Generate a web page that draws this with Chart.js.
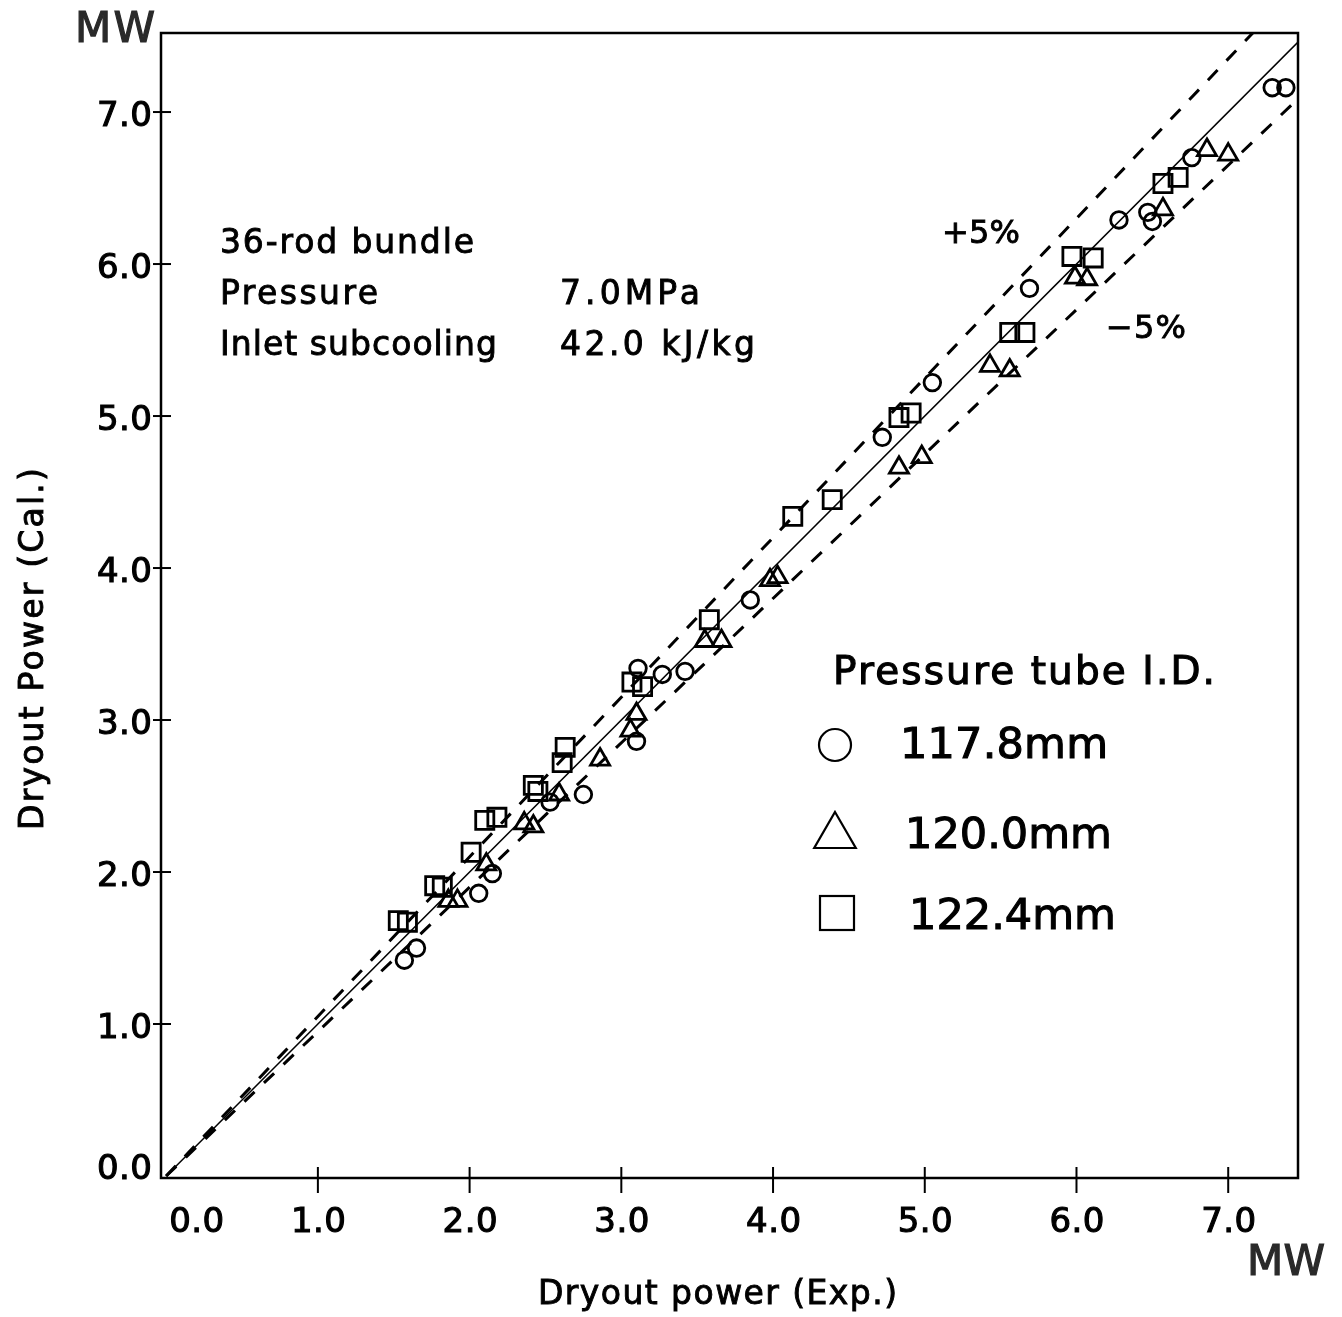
<!DOCTYPE html>
<html>
<head>
<meta charset="utf-8">
<script src="https://cdn.jsdelivr.net/npm/chart.js@4.4.1/dist/chart.umd.min.js"></script>
<style>
  html, body { margin: 0; padding: 0; background: #fff; }
  #chart { display: block; }
</style>
</head>
<body>
<canvas id="chart" width="1342" height="1317"></canvas>
<script>
// dryout power, exp. (x) vs cal. (y), MW

// pressure tube I.D. 117.8mm (circles)
const tube1178X = [1.57, 1.65, 2.06, 2.15, 2.53, 2.75, 3.10, 3.11, 3.27, 3.42, 3.85, 4.72, 5.05, 5.69, 6.28, 6.47, 6.50, 6.76, 7.29, 7.38];
const tube1178Y = [1.42, 1.50, 1.86, 1.99, 2.46, 2.51, 2.86, 3.34, 3.30, 3.32, 3.79, 4.86, 5.22, 5.84, 6.29, 6.34, 6.28, 6.70, 7.16, 7.16];

// 120.0mm (triangles)
const tube1200X = [1.86, 1.92, 2.11, 2.36, 2.42, 2.59, 2.86, 3.06, 3.10, 3.55, 3.66, 3.98, 4.03, 4.83, 4.98, 5.43, 5.56, 5.99, 6.07, 6.57, 6.86, 7.00];
const tube1200Y = [1.81, 1.81, 2.05, 2.32, 2.30, 2.51, 2.74, 2.93, 3.04, 3.52, 3.52, 3.92, 3.94, 4.66, 4.73, 5.33, 5.30, 5.91, 5.90, 6.36, 6.75, 6.72];

// 122.4mm (squares)
const tube1224X = [1.53, 1.59, 1.77, 1.82, 2.01, 2.10, 2.18, 2.42, 2.45, 2.63, 2.61, 3.07, 3.14, 3.58, 4.13, 4.39, 4.83, 4.91, 5.56, 5.66, 5.97, 6.11, 6.57, 6.67];
const tube1224Y = [1.68, 1.67, 1.91, 1.90, 2.13, 2.34, 2.36, 2.57, 2.53, 2.82, 2.72, 3.25, 3.22, 3.66, 4.34, 4.45, 4.99, 5.02, 5.55, 5.55, 6.05, 6.04, 6.53, 6.57];

// reference lines: cal = exp, +5%, -5%
const refEnds = [0, 7.6];
const refRatios = [1.0, 1.05, 0.95];

const tickValues = [0, 1, 2, 3, 4, 5, 6, 7];
const tickLabels = ['0.0', '1.0', '2.0', '3.0', '4.0', '5.0', '6.0', '7.0'];

const legendLabels = ['117.8mm', '120.0mm', '122.4mm'];

function pts(xs, ys) {
  return xs.map((v, i) => ({ x: v, y: ys[i] }));
}

function refLine(r) {
  return refEnds.map(v => ({ x: v, y: v * r }));
}

const FONT = '"DejaVu Sans", "Liberation Sans", sans-serif';

// draws text from its left edge, spread to a given width, a bit heavier than Book
function text(ctx, str, left, base, size, width, weight) {
  ctx.font = size + 'px ' + FONT;
  ctx.letterSpacing = '0px';
  if (width && str.length > 1) {
    const w = ctx.measureText(str).width;
    ctx.letterSpacing = ((width - w) / (str.length - 1)).toFixed(2) + 'px';
  }
  ctx.textAlign = 'left';
  ctx.textBaseline = 'alphabetic';
  ctx.fillText(str, left, base);
  ctx.lineWidth = weight === undefined ? 0.9 : weight;
  if (ctx.lineWidth > 0) ctx.strokeText(str, left, base);
  ctx.letterSpacing = '0px';
}

function seg(ctx, x1, y1, x2, y2) {
  ctx.beginPath();
  ctx.moveTo(x1, y1);
  ctx.lineTo(x2, y2);
  ctx.stroke();
}

const decorations = {
  id: 'decorations',
  afterDatasetsDraw(chart) {
    const { ctx, chartArea: a, scales } = chart;
    const sx = scales.x, sy = scales.y;
    ctx.save();
    ctx.strokeStyle = '#000';
    ctx.fillStyle = '#000';

    // frame
    ctx.lineWidth = 2.5;
    ctx.strokeRect(a.left, a.top, a.right - a.left, a.bottom - a.top);

    // ticks and tick labels
    tickValues.forEach((v, i) => {
      const px = sx.getPixelForValue(v);
      const py = sy.getPixelForValue(v);
      ctx.lineWidth = 2;
      if (v !== 0) {
        seg(ctx, px, a.bottom - 11, px, a.bottom + 15);
        seg(ctx, a.left - 8, py, a.left + 10, py);
      }
      const lab = tickLabels[i];
      const shiftX = v === 0 ? 30 : 0;
      const shiftY = v === 0 ? -11 : 0;
      text(ctx, lab, px + shiftX - 27, a.bottom + 54, 34, 55, 1.1);
      text(ctx, lab, 97, py + 14 + shiftY, 34, 55, 1.1);
    });

    // units
    ctx.fillStyle = '#2a2a2a';
    ctx.strokeStyle = '#2a2a2a';
    text(ctx, 'MW', 75, 42, 42, 80, 1.2);
    text(ctx, 'MW', 1247, 1275, 42, 78, 1.2);
    ctx.fillStyle = '#000';
    ctx.strokeStyle = '#000';

    // axis titles
    text(ctx, 'Dryout power (Exp.)', 538, 1304, 33, 359);
    ctx.save();
    ctx.translate(43, 830);
    ctx.rotate(-Math.PI / 2);
    text(ctx, 'Dryout Power (Cal.)', 0, 0, 33, 362);
    ctx.restore();

    // test conditions
    text(ctx, '36-rod bundle', 220, 253, 33, 254);
    text(ctx, 'Pressure', 220, 304, 33, 158);
    text(ctx, '7.0MPa', 560, 304, 33, 140);
    text(ctx, 'Inlet subcooling', 220, 355, 33, 277);
    text(ctx, '42.0 kJ/kg', 560, 355, 33, 195);

    // band labels
    text(ctx, '+5%', 942, 243, 32, 78);
    text(ctx, '\u22125%', 1106, 338, 32, 80);

    // legend
    text(ctx, 'Pressure tube I.D.', 833, 684, 39, 382, 1.1);
    text(ctx, legendLabels[0], 900, 758, 43, 208, 1.1);
    text(ctx, legendLabels[1], 905, 848, 43, 207, 1.1);
    text(ctx, legendLabels[2], 909, 929, 43, 207, 1.1);

    ctx.lineWidth = 2.2;
    ctx.beginPath();
    ctx.arc(835, 745, 16, 0, Math.PI * 2);
    ctx.stroke();

    const r = 24;
    ctx.beginPath();
    ctx.moveTo(835, 836 - r);
    ctx.lineTo(835 + r * 0.866, 836 + r / 2);
    ctx.lineTo(835 - r * 0.866, 836 + r / 2);
    ctx.closePath();
    ctx.stroke();

    ctx.strokeRect(820, 896, 34, 34);

    ctx.restore();
  }
};

const markerBase = {
  borderColor: '#000',
  backgroundColor: 'rgba(0,0,0,0)',
  borderWidth: 2.8,
  showLine: false
};

new Chart(document.getElementById('chart'), {
  type: 'scatter',
  data: {
    datasets: [
      Object.assign({ label: '117.8mm', data: pts(tube1178X, tube1178Y), pointStyle: 'circle', pointRadius: 8.3 }, markerBase),
      Object.assign({ label: '120.0mm', data: pts(tube1200X, tube1200Y), pointStyle: 'triangle', pointRadius: 11 }, markerBase),
      Object.assign({ label: '122.4mm', data: pts(tube1224X, tube1224Y), pointStyle: 'rect', pointRadius: 12.8 }, markerBase),
      { label: 'Cal. = Exp.', data: refLine(refRatios[0]), showLine: true, borderColor: '#000', borderWidth: 1.5, pointRadius: 0 },
      { label: '+5%', data: refLine(refRatios[1]), showLine: true, borderColor: '#000', borderWidth: 3, borderDash: [14, 13], pointRadius: 0 },
      { label: '-5%', data: refLine(refRatios[2]), showLine: true, borderColor: '#000', borderWidth: 3, borderDash: [14, 13], pointRadius: 0 }
    ]
  },
  options: {
    responsive: false,
    animation: false,
    devicePixelRatio: 1,
    layout: { padding: { left: 161, top: 33, right: 44, bottom: 139 } },
    plugins: {
      legend: { display: false },
      tooltip: { enabled: false }
    },
    scales: {
      x: { type: 'linear', min: -0.034, max: 7.46, display: false },
      y: { type: 'linear', min: -0.013, max: 7.52, display: false }
    }
  },
  plugins: [decorations]
});
</script>
</body>
</html>
